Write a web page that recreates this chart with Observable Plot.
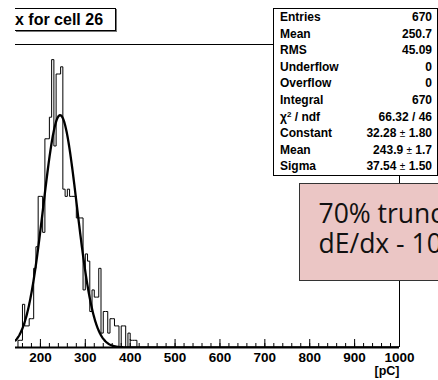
<!DOCTYPE html>
<html>
<head>
<meta charset="utf-8">
<script src="https://cdn.jsdelivr.net/npm/d3@7"></script>
<script src="https://cdn.jsdelivr.net/npm/@observablehq/plot@0.6"></script>
<style>
  body { margin: 0; background: #fff; }
  #wrap { position: relative; width: 438px; height: 380px; overflow: hidden; font-family: "Liberation Sans", Arial, sans-serif; }
  #wrap svg { position: absolute; left: 0; top: 0; }
  .title { position: absolute; left: 15px; top: 8px; width: 100px; height: 21px; border: 1px solid #000; border-left: none;
           box-shadow: 1px 1px 0 #777; background: #fff; font-weight: bold; font-size: 16px; line-height: 21px; white-space: nowrap; }
  .stats { position: absolute; left: 273px; top: 8px; width: 165px; height: 168px; border: 1px solid #000; background: #fff; box-sizing: border-box; }
  .row { position: absolute; left: 6px; right: 5px; height: 16.6px; font-weight: bold; font-size: 12px; line-height: 16.6px; white-space: nowrap; }
  .row .v { position: absolute; right: 0; top: 0; }
  .pm { font-weight: normal; font-size: 10px; }
  .sup { font-size: 8px; vertical-align: 4px; line-height: 0; }
  .note { position: absolute; left: 299px; top: 183px; width: 170px; height: 98px; background: #ebc6c5; border: 1.5px solid #333;
          box-sizing: border-box; font-family: "Open Sans", Lato, sans-serif; font-size: 26.5px; line-height: 30px; padding: 14px 0 0 18.5px; white-space: nowrap; color: #111; }
</style>
</head>
<body>
<div id="wrap"></div>
<script>
// ---- data ----
const binLeft = [150,155,160,165,170,175,180,185,190,195,200,205,210,215,220,225,230,235,240,245,
                 250,255,260,265,270,275,280,285,290,295,300,305,310,315,320,325,330,335,340,345,
                 350,355,360,365,370,375,380,385,390,395,400,405,410];
const counts  = [1,1,6,3,3,4,4,11,14,21,21,16,29,29,32,40,28,38,38,39,
                 22,21,22,21,21,21,18,18,18,8,13,12,5,8,7,7,11,2,5,5,
                 2,4,4,3,3,0,3,3,0,2,1,1,1];
const binWidth = 5;
const fitConstant = 32.28, fitMean = 243.9, fitSigma = 37.54;
const majorTicks = [200,300,400,500,600,700,800,900,1000];
const minorTicks = d3.range(160, 1001, 20);
const statLabels = ["Entries","Mean","RMS","Underflow","Overflow","Integral","χ2 / ndf","Constant","Mean","Sigma"];
const statValues = ["670","250.7","45.09","0","0","670","66.32 / 46","32.28 ± 1.80","243.9 ± 1.7","37.54 ± 1.50"];
const titleText = "x for cell 26";
const noteLines = ["70% trunc", "dE/dx - 10"];
const xDomain = [144.5, 1000];
const yDomain = [0, 42.1];

// ---- derived ----
const steps = [{x: binLeft[0], y: 0}];
binLeft.forEach((b, i) => steps.push({x: b, y: counts[i]}));
steps.push({x: binLeft[binLeft.length - 1] + binWidth, y: 0});

const fitPts = d3.range(xDomain[0], xDomain[1] + 0.5, 1).map(x => ({
  x, y: fitConstant * Math.exp(-0.5 * ((x - fitMean) / fitSigma) ** 2)
}));

const plotH = 380 - 44 - 33;
const unit = (yDomain[1] - yDomain[0]) / plotH; // data units per pixel
const majorLen = 8 * unit, minorLen = 4 * unit;

const chart = Plot.plot({
  width: 438, height: 380,
  marginLeft: 15, marginRight: 39, marginTop: 44, marginBottom: 33,
  x: {domain: xDomain},
  y: {domain: yDomain, axis: null},
  style: {fontFamily: "Liberation Sans, Arial, sans-serif", background: "transparent", color: "#000"},
  marks: [
    Plot.ruleY([yDomain[1]], {stroke: "#000", strokeWidth: 1}),
    Plot.ruleX([xDomain[1]], {stroke: "#000", strokeWidth: 1}),
    Plot.line(steps, {x: "x", y: "y", curve: "step-after", stroke: "#000", strokeWidth: 1, clip: true}),
    Plot.line(fitPts, {x: "x", y: "y", stroke: "#000", strokeWidth: 2.3, clip: true}),
    Plot.ruleX(minorTicks, {x: d => d, y1: 0, y2: minorLen, stroke: "#000", strokeWidth: 1}),
    Plot.ruleX(majorTicks, {x: d => d, y1: 0, y2: majorLen, stroke: "#000", strokeWidth: 1}),
    Plot.ruleY([0], {stroke: "#000", strokeWidth: 2}),
    Plot.axisX(majorTicks, {tickSize: 0, tickPadding: 4.5, label: null, tickFormat: d => String(d),
      fontSize: 13.5, fontWeight: "bold"}),
    Plot.text(["[pC]"], {frameAnchor: "bottom-right", text: d => d, dy: 27, textAnchor: "end",
      fontSize: 12.5, fontWeight: "bold"})
  ]
});

const wrap = document.getElementById("wrap");
wrap.appendChild(chart);

const title = document.createElement("div");
title.className = "title";
title.textContent = titleText;
wrap.appendChild(title);

const stats = document.createElement("div");
stats.className = "stats";
statLabels.forEach((lab, i) => {
  const row = document.createElement("div");
  row.className = "row";
  row.style.top = (i * 16.6) + "px";
  const l = document.createElement("span");
  if (lab.startsWith("χ2")) { l.innerHTML = "χ<span class='sup'>2</span> / ndf"; } else l.textContent = lab;
  const v = document.createElement("span");
  v.className = "v";
  v.innerHTML = statValues[i].replace("±", "<span class='pm'>±</span>");
  row.appendChild(l); row.appendChild(v);
  stats.appendChild(row);
});
wrap.appendChild(stats);

const note = document.createElement("div");
note.className = "note";
note.innerHTML = noteLines.map(s => `<div>${s}</div>`).join("");
wrap.appendChild(note);
</script>
</body>
</html>
